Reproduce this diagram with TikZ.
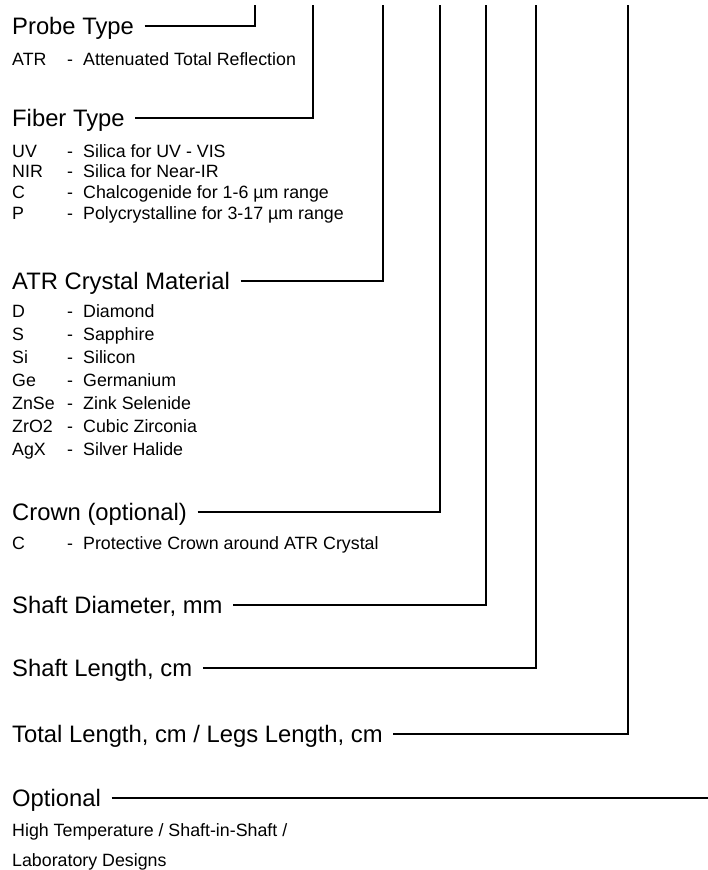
\documentclass[tikz,border=0pt]{standalone}
\usepackage{fontspec}
\setmainfont{Liberation Sans}
\usetikzlibrary{positioning}
\newcommand{\codeline}[2]{\makebox[55pt][l]{#1}\makebox[16pt][l]{-}#2}

\begin{document}
\begin{tikzpicture}[x=1pt,y=-1pt,
  head/.style={font=\fontsize{23.8}{28}\selectfont,inner sep=0pt,anchor=base west,
     text height=17pt,text depth=0pt},
  item/.style={font=\fontsize{17.8}{21}\selectfont,inner sep=0pt,anchor=base west},
  lead/.style={line width=1.5pt,line join=miter}]
\useasboundingbox (0,0) rectangle (708,870);
% code positions along the top edge
\coordinate (tprobe) at (255,5);
\coordinate (tfiber) at (313,5);
\coordinate (tcrys) at (383,5);
\coordinate (tcrown) at (440,5);
\coordinate (tdiam) at (486,5);
\coordinate (tslen) at (536,5);
\coordinate (ttlen) at (628,5);
\coordinate (eopt) at (708,798);
% headings
\node[head] (probe) at (12,34.5) {Probe Type};
\node[head] (fiber) at (12,126.5) {Fiber Type};
\node[head] (crys) at (12,289.5) {ATR Crystal Material};
\node[head] (crown) at (12,520.5) {Crown (optional)};
\node[head] (diam) at (12,613.5) {Shaft Diameter, mm};
\node[head] (slen) at (12,676.5) {Shaft Length, cm};
\node[head] (tlen) at (12,742.5) {Total Length, cm / Legs Length, cm};
\node[head] (opt) at (12,806.5) {Optional};
% options
\node[item] (atr) at (12,65) {\codeline{ATR}{Attenuated Total Reflection}};
\node[item] (uv) at (12,157) {\codeline{UV}{Silica for UV - VIS}};
\node[item] (nir) at (12,177.7) {\codeline{NIR}{Silica for Near-IR}};
\node[item] (chal) at (12,198.4) {\codeline{C}{Chalcogenide for 1-6 µm range}};
\node[item] (poly) at (12,219.1) {\codeline{P}{Polycrystalline for 3-17 µm range}};
\node[item] (dia) at (12,317.5) {\codeline{D}{Diamond}};
\node[item] (sap) at (12,340.5) {\codeline{S}{Sapphire}};
\node[item] (sil) at (12,363.5) {\codeline{Si}{Silicon}};
\node[item] (ger) at (12,386.5) {\codeline{Ge}{Germanium}};
\node[item] (znse) at (12,409.5) {\codeline{ZnSe}{Zink Selenide}};
\node[item] (zro) at (12,432.5) {\codeline{ZrO2}{Cubic Zirconia}};
\node[item] (agx) at (12,455.5) {\codeline{AgX}{Silver Halide}};
\node[item] (prot) at (12,549) {\codeline{C}{Protective Crown around ATR Crystal}};
\node[item] (hts) at (12,836) {High Temperature / Shaft-in-Shaft /};
\node[item] (lab) at (12,866) {Laboratory Designs};
% leaders
\draw[lead] ([xshift=10.5pt]probe.east) -| (tprobe);
\draw[lead] ([xshift=10.5pt]fiber.east) -| (tfiber);
\draw[lead] ([xshift=10.5pt]crys.east) -| (tcrys);
\draw[lead] ([xshift=10.5pt]crown.east) -| (tcrown);
\draw[lead] ([xshift=10.5pt]diam.east) -| (tdiam);
\draw[lead] ([xshift=10.5pt]slen.east) -| (tslen);
\draw[lead] ([xshift=10.5pt]tlen.east) -| (ttlen);
\draw[lead] ([xshift=10.5pt]opt.east) -- (eopt);
\end{tikzpicture}
\end{document}
